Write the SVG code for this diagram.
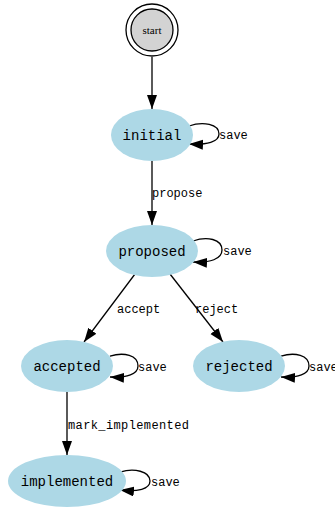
<svg xmlns="http://www.w3.org/2000/svg" width="335" height="508" viewBox="0 0 335 508">
<defs>
<style>
.node ellipse.state{fill:#add8e6;stroke:none}
.nlabel{font-family:"Liberation Mono","Courier New",monospace;font-size:14px;fill:#000;text-anchor:middle}
.elabel{font-family:"Liberation Mono","Courier New",monospace;font-size:12px;fill:#000}
.edge{fill:none;stroke:#000;stroke-width:1.3;marker-end:url(#arrow)}
</style>
<marker id="arrow" markerUnits="userSpaceOnUse" markerWidth="15" markerHeight="11" refX="14" refY="5" orient="auto">
<path d="M0,0 L14,5 L0,10 Z" fill="#000"/>
</marker>
</defs>
<rect width="335" height="508" fill="#fff"/>
<g id="connectors">
<path class="edge" d="M152,57 L152,109"/>
<path class="edge" d="M189,126 C203,121 219,124 219,134 C219,142 207,145 189,144"/>
<path class="edge" d="M152,161 L152,225"/>
<text class="elabel" x="152" y="197">propose</text>
<path class="edge" d="M193,241 C207,236 222,239 222,250 C222,259 210,263 193,262"/>
<path class="edge" d="M135,274 L84,342"/>
<text class="elabel" x="117" y="313">accept</text>
<path class="edge" d="M170,274 L223,342"/>
<text class="elabel" x="195" y="313">reject</text>
<path class="edge" d="M110,356 C124,352 138,355 138,366 C138,374 127,378 110,377"/>
<path class="edge" d="M281,356 C295,352 309,355 309,366 C309,374 298,378 281,377"/>
<path class="edge" d="M67,392 L67,455"/>
<text class="elabel" x="68" y="429" textLength="121">mark_implemented</text>
<path class="edge" d="M120,472 C134,468 150,471 150,481 C150,489 138,492 120,490"/>
<text class="elabel" x="219" y="139">save</text>
<text class="elabel" x="223" y="255">save</text>
<text class="elabel" x="138" y="371">save</text>
<text class="elabel" x="309" y="371">save</text>
<text class="elabel" x="151" y="486">save</text>
</g>
<g id="start" class="node">
<circle cx="152" cy="30" r="26" fill="none" stroke="#000" stroke-width="1.3"/>
<circle cx="152" cy="30" r="21" fill="#d3d3d3" stroke="#000" stroke-width="1.3"/>
<text x="152" y="33.5" font-family="'Liberation Serif','Times New Roman',serif" font-size="11" text-anchor="middle">start</text>
</g>
<g id="initial" class="node">
<ellipse class="state" cx="152" cy="135" rx="41" ry="26"/>
<text class="nlabel" x="152" y="139.5">initial</text>
</g>
<g id="proposed" class="node">
<ellipse class="state" cx="152" cy="251" rx="46" ry="26"/>
<text class="nlabel" x="152" y="255.5">proposed</text>
</g>
<g id="accepted" class="node">
<ellipse class="state" cx="67" cy="366" rx="46" ry="26"/>
<text class="nlabel" x="67" y="370.5">accepted</text>
</g>
<g id="rejected" class="node">
<ellipse class="state" cx="239" cy="366" rx="46" ry="26"/>
<text class="nlabel" x="239" y="370.5">rejected</text>
</g>
<g id="implemented" class="node">
<ellipse class="state" cx="67" cy="481" rx="59" ry="26"/>
<text class="nlabel" x="67" y="485.5">implemented</text>
</g>
</svg>
